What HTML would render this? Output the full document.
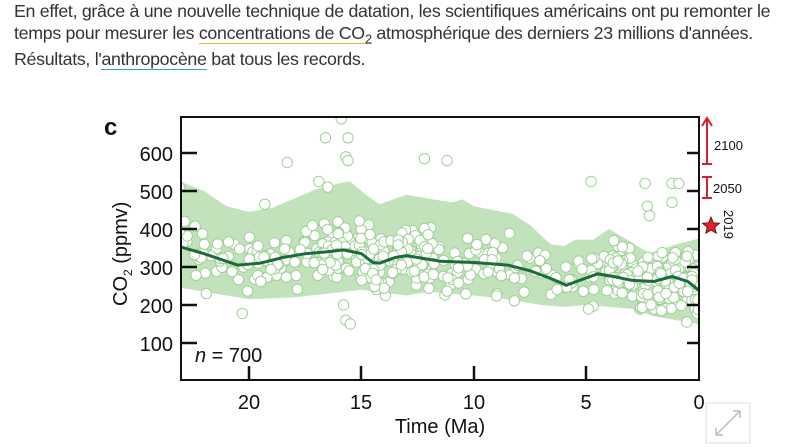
<!DOCTYPE html>
<html><head><meta charset="utf-8"><style>
body{margin:0;background:#fff;width:792px;height:447px;overflow:hidden;font-family:"Liberation Sans",sans-serif;}
.t{position:absolute;left:14px;font-size:17.8px;color:#333;white-space:nowrap;letter-spacing:-0.3px}
.u1{border-bottom:1px solid #e0b030}
.u2{border-bottom:1px solid #3aa0c0}
</style></head><body>
<div class="t" style="top:1px">En effet, grâce à une nouvelle technique de datation, les scientifiques américains ont pu remonter le</div>
<div class="t" style="top:23px">temps pour mesurer les <span class="u1">concentrations de CO<sub style="font-size:13px">2</sub></span> atmosphérique des derniers 23 millions d'années.</div>
<div class="t" style="top:49px">Résultats, l'<span class="u2">anthropocène</span> bat tous les records.</div>
<svg id="s" width="792" height="447" style="position:absolute;left:0;top:0" xmlns="http://www.w3.org/2000/svg" font-family="Liberation Sans, sans-serif">
<defs><clipPath id="c"><rect x="181" y="117" width="518" height="263"/></clipPath></defs>
<g id="band" clip-path="url(#c)"></g>
<g id="dots" clip-path="url(#c)"></g>
<g id="ln" clip-path="url(#c)"></g>
<g stroke="#111" stroke-width="2.5" fill="none">
<path d="M181,117 H699 V380 H181 Z" stroke-width="2"/>
<path d="M181,153h16M181,191h16M181,229h16M181,267h16M181,305h16M181,343h16"/>
<path d="M699,153h-12M699,191h-12M699,229h-12M699,267h-12M699,305h-12M699,343h-12"/>
<path d="M249,380v-14M361,380v-14M474,380v-14M586,380v-14"/>
</g>
<g font-size="20" fill="#111" text-anchor="end">
<text x="173" y="161">600</text><text x="173" y="199">500</text><text x="173" y="237">400</text>
<text x="173" y="275">300</text><text x="173" y="313">200</text><text x="173" y="351">100</text>
</g>
<g font-size="20" fill="#111" text-anchor="middle">
<text x="249" y="409">20</text><text x="361" y="409">15</text><text x="474" y="409">10</text><text x="586" y="409">5</text><text x="699" y="409">0</text>
<text x="440" y="433">Time (Ma)</text>
</g>
<text x="104" y="135" font-size="24" font-weight="bold" fill="#111">c</text>
<text font-size="20" fill="#111" transform="translate(127,306) rotate(-90)">CO<tspan font-size="12" dy="5">2</tspan><tspan dy="-5"> (ppmv)</tspan></text>
<text x="195" y="362" font-size="20" fill="#111"><tspan font-style="italic">n</tspan> = 700</text>
<g stroke="#d62030" stroke-width="2" fill="none">
<path d="M707,164V120M702,164h10M702,126l5,-8l5,8"/>
<path d="M707,177V198M702,177h10M702,198h10"/>
</g>
<g font-size="13" fill="#111"><text x="714" y="150">2100</text><text x="713" y="193">2050</text>
<text transform="translate(724,210) rotate(90)">2019</text></g>
<polygon id="star" fill="#e02030" stroke="#600" stroke-width="0.8"/>
<g stroke="#ddd" fill="none" stroke-width="1"><rect x="706" y="403" width="44" height="40" fill="#fff"/></g>
<g stroke="#bbb" stroke-width="1.5" fill="none"><path d="M716,435l24,-24M733,411h7v7M716,428v7h7"/></g>
</svg>
<script>
var NS="http://www.w3.org/2000/svg";
function X(m){return 699-22.5*m}function Y(v){return 381-0.38*v}
var up=[[23.5,535],[22,500],[21,460],[20,445],[19,455],[18,480],[17,505],[16,520],[15.5,525],[14.8,490],[14.2,465],[13.5,480],[13,490],[12,480],[11,470],[10.5,478],[10,460],[9,448],[8.3,440],[7.5,410],[6.6,360],[6,355],[5.5,372],[4.7,372],[4,400],[3,365],[2.2,336],[1,360],[0,375],[-0.5,375]];
var lo=[[-0.5,150],[0,150],[1,160],[2,170],[3,190],[4,195],[5,200],[6,195],[7,200],[8.5,215],[10,225],[12,235],[13,225],[15,240],[16.5,230],[18,220],[20,215],[21,225],[23.5,250]];
var d="M"+up.map(p=>X(p[0])+","+Y(p[1])).join("L")+"L"+lo.map(p=>X(p[0])+","+Y(p[1])).join("L")+"Z";
var b=document.createElementNS(NS,"path");b.setAttribute("d",d);b.setAttribute("fill","#c2e2bb");document.getElementById("band").appendChild(b);
var mn=[[23.5,358],[23,352],[22,335],[21,315],[20.5,305],[19.5,310],[18.5,325],[17.5,335],[16.5,340],[15.8,345],[15,335],[14.5,312],[14.2,310],[13.5,325],[13,330],[12.5,325],[11.5,315],[10,312],[8.5,305],[7.5,290],[6.6,270],[5.9,252],[5.3,265],[4.5,282],[3.8,275],[3,265],[2,262],[1.2,275],[0.5,262],[0,238]];
function mean(m){for(var i=0;i<mn.length-1;i++){var a=mn[i],c=mn[i+1];if(m<=a[0]&&m>=c[0]){var t=(a[0]-m)/(a[0]-c[0]);return a[1]+t*(c[1]-a[1]);}}return 300;}
var l=document.createElementNS(NS,"path");l.setAttribute("d","M"+mn.map(p=>X(p[0])+","+Y(p[1])).join("L"));l.setAttribute("fill","none");l.setAttribute("stroke","#1d6b3c");l.setAttribute("stroke-width","3");document.getElementById("ln").appendChild(l);
var seed=7;function r(){seed=(seed*16807)%2147483647;return seed/2147483647;}
function g(){return (r()+r()+r()+r()-2)/1.15;}
var pts=[];
for(var i=0;i<600;i++){var m;var q=r();if(q<0.3)m=r()*4;else if(q<0.4)m=14+r()*3;else if(q<0.5)m=12+r()*2.5;else m=r()*23.2;
var v=mean(m)+g()*72;pts.push([m,v]);}
var out=[[23.1,510],[16.6,640],[15.9,690],[15.6,640],[15.7,590],[15.6,580],[18.3,575],[12.2,585],[11.2,580],[4.8,525],[2.4,520],[1.2,520],[0.9,520],[2.3,460],[2.2,435],[1.2,470],[19.3,465],[21.9,230],[15.8,200],[15.7,160],[15.5,150],[20.3,178],[16.9,525],[16.5,510]];
pts=pts.concat(out);
var dg=document.getElementById("dots");
pts.forEach(function(p){var c=document.createElementNS(NS,"circle");c.setAttribute("cx",X(p[0]).toFixed(1));c.setAttribute("cy",Y(p[1]).toFixed(1));c.setAttribute("r","5.2");c.setAttribute("fill","#fff");c.setAttribute("stroke","#9fd097");c.setAttribute("stroke-width","1");dg.appendChild(c);});
var s=[],cx=711,cy=226;for(var k=0;k<10;k++){var a=-Math.PI/2+k*Math.PI/5,rr=k%2?4:9;s.push((cx+rr*Math.cos(a)).toFixed(1)+","+(cy+rr*Math.sin(a)).toFixed(1));}
document.getElementById("star").setAttribute("points",s.join(" "));
</script>
</body></html>
